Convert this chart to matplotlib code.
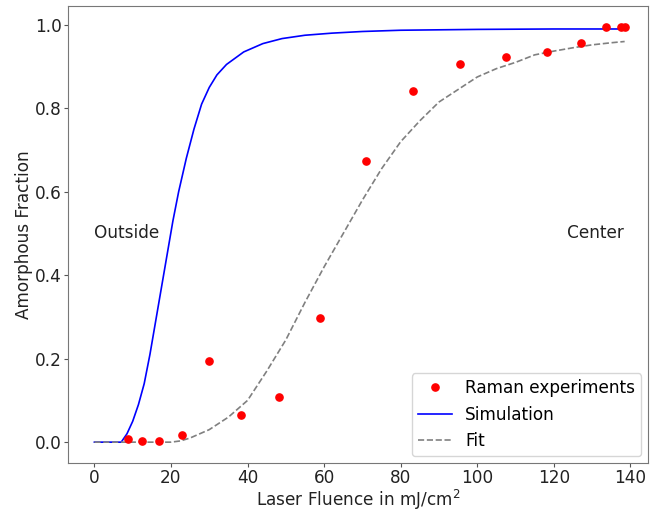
import matplotlib
matplotlib.use("Agg")
import matplotlib.pyplot as plt

# Raman measurements of the amorphous fraction
raman_fluence = [8.9, 12.5, 17.0, 22.9, 30.0, 38.3, 48.2, 59.0, 70.9, 83.3,
                 95.6, 107.6, 118.3, 127.0, 133.7, 137.5, 138.5]
raman_fraction = [0.007, 0.002, 0.003, 0.018, 0.195, 0.064, 0.108, 0.297, 0.673, 0.841,
                  0.906, 0.924, 0.935, 0.957, 0.995, 0.995, 0.995]

# Simulated amorphous fraction
sim_fluence = [0, 7, 8.5, 10, 11.5, 13, 14.5, 16, 17.5, 19, 20.5, 22, 24, 26,
               28, 30, 32, 34.5, 39, 44, 49, 55, 62, 70, 80, 100, 120, 138.5]
sim_fraction = [0, 0, 0.02, 0.05, 0.09, 0.14, 0.21, 0.29, 0.37, 0.45, 0.53, 0.60, 0.68, 0.75,
                0.81, 0.85, 0.88, 0.905, 0.935, 0.955, 0.967, 0.975, 0.98, 0.984, 0.987,
                0.989, 0.99, 0.99]

# Fitted curve through the measurements
fit_fluence = [0, 10, 20, 22.5, 25, 30, 35, 40, 45, 50, 55, 60, 65, 70, 75, 80, 85,
               90, 95, 100, 105, 110, 115, 120, 125, 130, 135, 138.5]
fit_fraction = [0, 0, 0, 0.003, 0.01, 0.03, 0.06, 0.10, 0.17, 0.245, 0.335, 0.42, 0.50, 0.58,
                0.655, 0.72, 0.77, 0.815, 0.845, 0.875, 0.895, 0.91, 0.928, 0.937, 0.945,
                0.952, 0.957, 0.96]

x_ticks = [0, 20, 40, 60, 80, 100, 120, 140]
y_ticks = [0.0, 0.2, 0.4, 0.6, 0.8, 1.0]

plt.rcParams['font.family'] = ['DejaVu Sans']
fs = 12.2

fig = plt.figure(figsize=(6.57, 5.11), dpi=100)
ax = fig.add_axes([0.1035, 0.0939, 0.8828, 0.8943])

ax.plot(raman_fluence, raman_fraction, 'o', color='red', markersize=5.2,
        label='Raman experiments', zorder=3)
ax.plot(sim_fluence, sim_fraction, '-', color='blue', linewidth=1.2, label='Simulation')
ax.plot(fit_fluence, fit_fraction, '--', color='gray', linewidth=1.2, label='Fit')

ax.text(0, 0.5, 'Outside', fontsize=fs, ha='left', va='center', color='#222222')
ax.text(123.5, 0.5, 'Center', fontsize=fs, ha='left', va='center', color='#222222')

ax.set_xlim(-6.9, 144.6)
ax.set_ylim(-0.05, 1.045)
ax.set_xticks(x_ticks)
ax.set_yticks(y_ticks)
ax.tick_params(labelsize=fs, length=3, pad=1.5, color='#555555', labelcolor='#222222')
for s in ax.spines.values():
    s.set_color('#777777')
ax.set_xlabel('Laser Fluence in mJ/cm$^2$', fontsize=fs, labelpad=0.5, color='#222222')
ax.set_ylabel('Amorphous Fraction', fontsize=fs, labelpad=1.5, color='#222222')

ax.legend(loc='lower right', fontsize=fs, borderaxespad=0.4, borderpad=0.35)

fig.savefig('out.png', dpi=100)
